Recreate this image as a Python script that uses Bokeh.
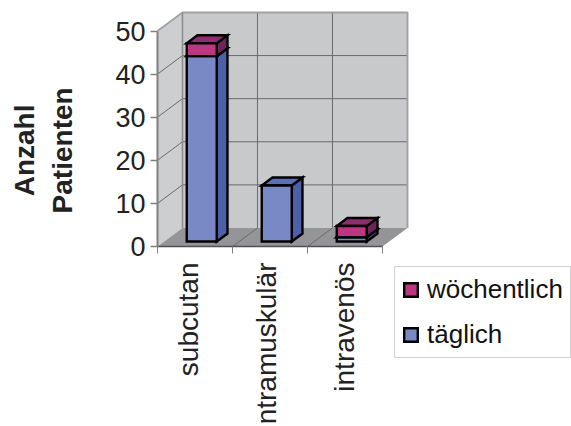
import math

from bokeh.embed import file_html
from bokeh.resources import INLINE
from bokeh.plotting import figure
from bokeh.models import FixedTicker, Label, Legend, LegendItem, Range1d

# Patients per route of administration, stacked by dosing frequency
categories = ["subcutan", "intramuskulär", "intravenös"]
taeglich = [43, 13, 1]
woechentlich = [3, 0, 2.6]
y_ticks = [0, 10, 20, 30, 40, 50]
label_ticks = [0.41, 1.45, 2.49]

# Oblique projection of the 3D box, in data units
DX, DY = 0.333, 4.3       # full floor depth
BAR_OFF = 0.27            # where the bars start within the depth
BAR_DEPTH = 0.43          # how deep the bars are
BAR_W = 0.4
PX_X, PX_Y = 75, 4.31     # pixels per data unit on each scale

BLUE = ("#7889c5", "#4b60a6", "#5b70b4")
PINK = ("#bc3680", "#6e2459", "#8f2e6e")

# The plot area fills the page; both axes are pinned at the origin inside it
p = figure(width=571, height=426, output_backend="svg", toolbar_location=None,
           min_border=0,
           x_range=Range1d(-157 / PX_X, 414 / PX_X), y_range=Range1d(-180 / PX_Y, 246 / PX_Y))
p.background_fill_color = "white"
p.border_fill_color = "white"
p.outline_line_color = None
p.grid.visible = False

# Walls and floor
p.patch([DX, 3 + DX, 3 + DX, DX], [DY, DY, 50 + DY, 50 + DY], fill_color="#c8c9cb", line_color=None)
p.patch([0, DX, DX, 0], [0, DY, 50 + DY, 50], fill_color="#cdced0", line_color=None)
p.patch([0, 3, 3 + DX, DX], [0, 0, DY, DY], fill_color="#959597", line_color=None)

# Gridlines on both walls and the floor
for v in y_ticks[1:-1]:
    p.line([0, DX, 3 + DX], [v, v + DY, v + DY], line_color="#6a6a6c", line_width=1)
for c in (1, 2):
    p.line([c + DX, c + DX], [DY, 50 + DY], line_color="#6a6a6c", line_width=1)
    p.line([c, c + DX], [0, DY], line_color="#6a6a6c", line_width=1)

# Wall edges
p.line([0, DX, 3 + DX, 3 + DX], [50, 50 + DY, 50 + DY, DY], line_color="#a2a2a4", line_width=2)
p.line([DX, DX], [DY, 50 + DY], line_color="#8a8a8c", line_width=1.5)


def box(i, lo, hi, colors):
    """Front, side and top faces of one stacked segment."""
    x0 = i + 0.5 - BAR_W / 2 + BAR_OFF * DX
    x1 = x0 + BAR_W
    b = BAR_OFF * DY
    ox, oy = BAR_DEPTH * DX, BAR_DEPTH * DY
    line = dict(line_color="#000000", line_width=2.4, line_join="miter")
    p.patch([x1, x1 + ox, x1 + ox, x1], [lo + b, lo + b + oy, hi + b + oy, hi + b],
            fill_color=colors[1], **line)
    p.patch([x0, x1, x1 + ox, x0 + ox], [hi + b, hi + b, hi + b + oy, hi + b + oy],
            fill_color=colors[2], **line)
    return p.patch([x0, x1, x1, x0], [lo + b, lo + b, hi + b, hi + b],
                   fill_color=colors[0], **line)


blue_r = pink_r = None
for i in range(len(categories)):
    blue_r = box(i, 0, taeglich[i], BLUE)
    if woechentlich[i]:
        pink_r = box(i, taeglich[i], taeglich[i] + woechentlich[i], PINK)

# Value axis
ax = p.yaxis[0]
ax.fixed_location = 0
ax.ticker = FixedTicker(ticks=y_ticks)
ax.bounds = (0, 50)
ax.axis_line_color = "#808082"
ax.axis_line_width = 2
ax.major_tick_line_color = "#808082"
ax.major_tick_line_width = 1.5
ax.major_tick_out = 7
ax.major_tick_in = 0
ax.minor_tick_out = 0
ax.minor_tick_in = 0
ax.major_label_standoff = 5
ax.major_label_text_font = "Liberation Sans"
ax.major_label_text_font_size = "27px"
ax.major_label_text_color = "#222222"

# Category axis: labels sit inside each group, ticks on the group boundaries
bx = p.xaxis[0]
bx.fixed_location = 0
bx.ticker = FixedTicker(ticks=label_ticks, minor_ticks=[0, 1, 2, 3])
bx.major_label_overrides = dict(zip(label_ticks, categories))
bx.bounds = (0, 3)
bx.axis_line_color = "#505052"
bx.axis_line_width = 1.5
bx.major_tick_out = 0
bx.major_tick_in = 0
bx.minor_tick_line_color = "#808082"
bx.minor_tick_line_width = 1
bx.minor_tick_out = 7
bx.minor_tick_in = 0
bx.major_label_orientation = math.pi / 2
bx.major_label_standoff = 9
bx.major_label_text_font = "Liberation Sans"
bx.major_label_text_font_size = "28px"
bx.major_label_text_color = "#222222"

# Two-line axis title
for txt, xpos in (("Anzahl", -1.77), ("Patienten", -1.27)):
    p.add_layout(Label(x=xpos, y=22.3, text=txt, angle=90, angle_units="deg", text_align="center",
                       text_baseline="middle", text_font="Liberation Sans", text_font_style="bold",
                       text_font_size="28px", text_color="#222222"))

legend = Legend(items=[LegendItem(label="wöchentlich", renderers=[pink_r]),
                       LegendItem(label="täglich", renderers=[blue_r])],
                location=(394, 68), orientation="vertical",
                glyph_width=17, glyph_height=17, label_text_font="Liberation Sans",
                label_text_font_size="26px", label_text_color="#111111",
                spacing=14, padding=7, margin=0, label_standoff=8,
                border_line_color="#a8a8a8", border_line_width=1,
                background_fill_color="white", background_fill_alpha=1)
p.add_layout(legend)

open("out.html", "w").write(file_html(p, INLINE))
